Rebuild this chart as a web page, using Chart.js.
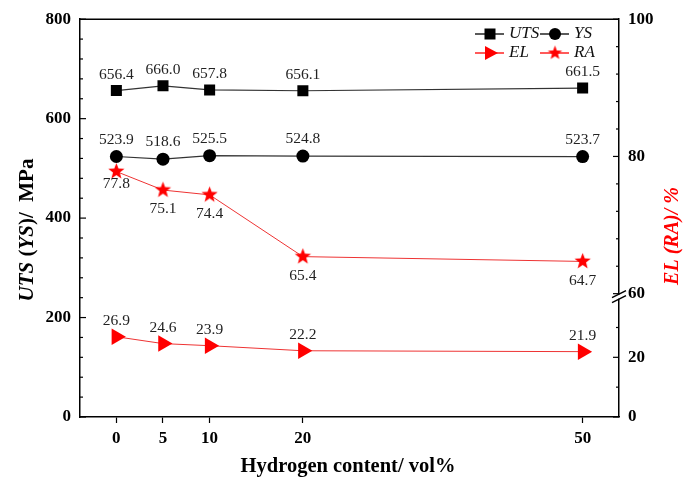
<!DOCTYPE html>
<html><head><meta charset="utf-8">
<script src="https://cdn.jsdelivr.net/npm/chart.js@4.4.0/dist/chart.umd.min.js"></script>
<style>html,body{margin:0;padding:0;background:#fff}#wrap{width:689px;height:485px;position:relative}</style>
</head><body><div id="wrap"><canvas id="c" width="689" height="485"></canvas></div>
<script>
// ---- data ----
const hydrogen = [0, 5, 10, 20, 50];
const uts = [656.4, 666.0, 657.8, 656.1, 661.5];
const ys = [523.9, 518.6, 525.5, 524.8, 523.7];
const el = [26.9, 24.6, 23.9, 22.2, 21.9];
const ra = [77.8, 75.1, 74.4, 65.4, 64.7];
const xTicks = [0, 5, 10, 20, 50];
const leftTicks = [0, 200, 400, 600, 800];
const leftMinor = [40, 80, 120, 160, 240, 280, 320, 360, 440, 480, 520, 560, 640, 680, 720, 760];
const upperTicks = [60, 80, 100];
const upperMinor = [64, 68, 72, 76, 84, 88, 92, 96];
const lowerTicks = [0, 20];
const lowerMinor = [10, 30];

const F = 'Liberation Serif';
const RED = '#ff0000';

function makeStar(r, color) {
  const s = Math.ceil(r * 2 + 2);
  const c = document.createElement('canvas');
  c.width = s; c.height = s;
  const g = c.getContext('2d');
  g.fillStyle = color;
  g.beginPath();
  for (let i = 0; i < 10; i++) {
    const a = -Math.PI / 2 + i * Math.PI / 5;
    const rr = i % 2 === 0 ? r : r * 0.42;
    g.lineTo(s / 2 + rr * Math.cos(a), s / 2 + rr * Math.sin(a));
  }
  g.closePath(); g.fill();
  return c;
}
const starImg = makeStar(8.5, RED);
const starSmall = makeStar(7.5, RED);

const pts = (arr) => hydrogen.map((x, i) => ({x: x, y: arr[i]}));

const labelCfg = {
  UTS: {dy: -16}, YS: {dy: -17}, EL: {dy: -16}, RA: {dy: 19}
};

const decor = {
  id: 'decor',
  afterDatasetsDraw(chart) {
    const ctx = chart.ctx;
    ctx.save();
    ctx.font = '15.5px "' + F + '"';
    ctx.fillStyle = '#222';
    ctx.textAlign = 'center';
    ctx.textBaseline = 'middle';
    chart.data.datasets.forEach((ds, di) => {
      const meta = chart.getDatasetMeta(di);
      const cfg = labelCfg[ds.label];
      meta.data.forEach((p, i) => {
        let dy = cfg.dy;
        if (ds.label === 'RA' && i === 0) dy = 12;
        ctx.fillText(ds.data[i].y.toFixed(1), p.x, p.y + dy);
      });
    });
    ctx.restore();
  },
  afterDraw(chart) {
    const ctx = chart.ctx;
    const a = chart.chartArea;
    const sy = chart.scales.y, su = chart.scales.yUp, sl = chart.scales.yLow;
    ctx.save();
    ctx.strokeStyle = '#000';
    ctx.lineWidth = 1.5;
    // top frame line
    ctx.beginPath(); ctx.moveTo(a.left, a.top); ctx.lineTo(a.right, a.top); ctx.stroke();
    // ticks (inside)
    ctx.lineWidth = 1.2;
    const tick = (x, y, len) => { ctx.beginPath(); ctx.moveTo(x, y); ctx.lineTo(x + len, y); ctx.stroke(); };
    leftTicks.forEach(v => tick(a.left, sy.getPixelForValue(v), 6));
    leftMinor.forEach(v => tick(a.left, sy.getPixelForValue(v), 3));
    upperTicks.forEach(v => tick(a.right, su.getPixelForValue(v), -6));
    upperMinor.forEach(v => tick(a.right, su.getPixelForValue(v), -3));
    lowerTicks.forEach(v => tick(a.right, sl.getPixelForValue(v), -6));
    lowerMinor.forEach(v => tick(a.right, sl.getPixelForValue(v), -3));
    // break marks on right axis
    const by = su.bottom;
    ctx.fillStyle = '#fff';
    ctx.fillRect(a.right - 2, by + 1, 4, 4);
    ctx.lineWidth = 1.5;
    ctx.beginPath();
    ctx.moveTo(a.right - 7, by + 4); ctx.lineTo(a.right + 7, by - 3);
    ctx.moveTo(a.right - 7, by + 9); ctx.lineTo(a.right + 7, by + 2);
    ctx.stroke();

    // titles
    const drawParts = (parts, cx, cy, rot, color) => {
      ctx.save();
      ctx.translate(cx, cy);
      ctx.rotate(rot);
      ctx.fillStyle = color;
      ctx.textBaseline = 'middle';
      ctx.textAlign = 'left';
      let total = 0;
      parts.forEach(p => { ctx.font = p[1]; total += ctx.measureText(p[0]).width; });
      let x = -total / 2;
      parts.forEach(p => { ctx.font = p[1]; ctx.fillText(p[0], x, 0); x += ctx.measureText(p[0]).width; });
      ctx.restore();
    };
    const B = 'bold 21px "' + F + '"', BI = 'italic bold 21px "' + F + '"';
    drawParts([['UTS', BI], [' (', B], ['YS', BI], [')/  MPa', B]], 28, 230, -Math.PI / 2, '#000');
    drawParts([['EL (RA)/ %', 'italic bold 20px "' + F + '"']], 673, 236, -Math.PI / 2, RED);
    drawParts([['Hydrogen content/ vol%', 'bold 20.5px "' + F + '"']], 348, 467, 0, '#000');

    // legend
    const rows = [
      [{t: 'UTS', x: 490, c: '#000', m: 'rect'}, {t: 'YS', x: 555, c: '#000', m: 'circle'}],
      [{t: 'EL', x: 490, c: RED, m: 'tri'}, {t: 'RA', x: 555, c: RED, m: 'star'}]
    ];
    const ry = [34, 53];
    rows.forEach((row, ri) => {
      const y = ry[ri];
      row.forEach(it => {
        ctx.strokeStyle = it.c; ctx.fillStyle = it.c; ctx.lineWidth = 1.3;
        ctx.beginPath(); ctx.moveTo(it.x - 15, y); ctx.lineTo(it.x + 14, y); ctx.stroke();
        ctx.beginPath();
        if (it.m === 'rect') ctx.fillRect(it.x - 5.5, y - 5.5, 11, 11);
        else if (it.m === 'circle') { ctx.arc(it.x, y, 6, 0, Math.PI * 2); ctx.fill(); }
        else if (it.m === 'tri') { ctx.moveTo(it.x + 8, y); ctx.lineTo(it.x - 5, y - 7); ctx.lineTo(it.x - 5, y + 7); ctx.closePath(); ctx.fill(); }
        else ctx.drawImage(starSmall, it.x - starSmall.width / 2, y - starSmall.height / 2);
        ctx.font = 'italic 17px "' + F + '"';
        ctx.fillStyle = '#111';
        ctx.textAlign = 'left'; ctx.textBaseline = 'middle';
        ctx.fillText(it.t, it.x + 19, y);
      });
    });
    ctx.restore();
  }
};

const tickFont = {family: F, size: 17, weight: 'bold'};

new Chart(document.getElementById('c'), {
  type: 'line',
  data: {
    datasets: [
      {label: 'UTS', data: pts(uts), yAxisID: 'y', borderColor: '#333', borderWidth: 1.2,
       pointStyle: 'rect', pointRadius: 7.8, pointBackgroundColor: '#000', pointBorderColor: '#000', pointBorderWidth: 0},
      {label: 'YS', data: pts(ys), yAxisID: 'y', borderColor: '#333', borderWidth: 1.2,
       pointStyle: 'circle', pointRadius: 6.5, pointBackgroundColor: '#000', pointBorderColor: '#000', pointBorderWidth: 0},
      {label: 'EL', data: pts(el), yAxisID: 'yLow', borderColor: '#e33', borderWidth: 1,
       pointStyle: 'triangle', pointRotation: 90, pointRadius: 9.5, pointBackgroundColor: RED, pointBorderColor: RED, pointBorderWidth: 0},
      {label: 'RA', data: pts(ra), yAxisID: 'yUp', borderColor: '#e33', borderWidth: 1,
       pointStyle: starImg, pointRadius: 8}
    ]
  },
  options: {
    responsive: false,
    animation: false,
    layout: {padding: {top: 17, left: 0, right: 0, bottom: 0}},
    plugins: {legend: {display: false}, tooltip: {enabled: false}},
    elements: {line: {tension: 0}},
    scales: {
      x: {
        type: 'linear', min: -3.9, max: 53.9,
        afterBuildTicks: s => { s.ticks = xTicks.map(v => ({value: v})); },
        afterFit: s => { s.height = 68; },
        border: {color: '#000', width: 1.5},
        grid: {drawOnChartArea: false, drawTicks: true, tickLength: 6, color: '#000', tickWidth: 1.2},
        ticks: {font: tickFont, color: '#000', padding: 5, maxRotation: 0}
      },
      y: {
        position: 'left', min: 0, max: 800,
        afterBuildTicks: s => { s.ticks = leftTicks.map(v => ({value: v})); },
        afterFit: s => { s.width = 80; },
        border: {color: '#000', width: 1.5},
        grid: {drawOnChartArea: false, drawTicks: false},
        ticks: {font: tickFont, color: '#000', padding: 9}
      },
      yUp: {
        position: 'right', stack: 'r', stackWeight: 276, min: 60, max: 100,
        afterBuildTicks: s => { s.ticks = upperTicks.map(v => ({value: v})); },
        afterFit: s => { s.width = 70; },
        border: {color: '#000', width: 1.5},
        grid: {drawOnChartArea: false, drawTicks: false},
        ticks: {font: tickFont, color: '#000', padding: 9}
      },
      yLow: {
        position: 'right', stack: 'r', stackWeight: 124, min: 0, max: 41.33,
        afterBuildTicks: s => { s.ticks = lowerTicks.map(v => ({value: v})); },
        afterFit: s => { s.width = 70; },
        border: {color: '#000', width: 1.5},
        grid: {drawOnChartArea: false, drawTicks: false},
        ticks: {font: tickFont, color: '#000', padding: 9}
      }
    }
  },
  plugins: [decor]
});
</script></body></html>
